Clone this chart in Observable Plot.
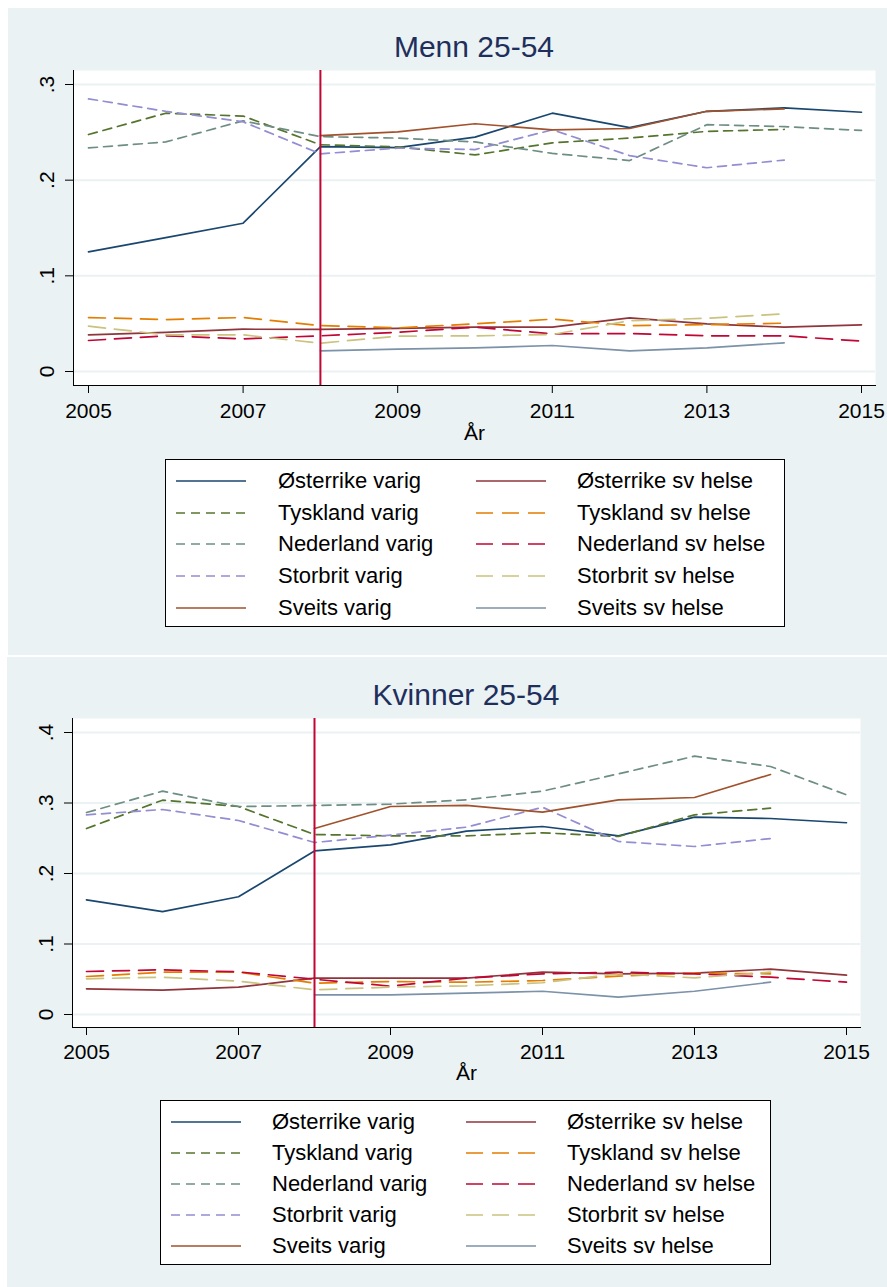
<!DOCTYPE html>
<html><head><meta charset="utf-8">
<script src="https://cdn.jsdelivr.net/npm/d3@7"></script>
<script src="https://cdn.jsdelivr.net/npm/@observablehq/plot@0.6"></script>
<style>
html,body{margin:0;padding:0;background:#fff}
body{width:887px;height:1287px;position:relative;overflow:hidden;font-family:"Liberation Sans",Arial,Helvetica,sans-serif}
.panel{position:absolute;background:#eaf2f3}
.title{position:absolute;transform:translate(-50%,-50%);white-space:nowrap;color:#1f2f5c;font-size:30px}
.chart{position:absolute;left:0}
.legend{position:absolute;background:#fff;border:1px solid #000;box-sizing:border-box}
.legend .item{position:absolute;height:30px;transform:translateY(-50%)}
.legend svg{position:absolute;top:0}
.legend span{position:absolute;top:50%;transform:translateY(-50%);font-size:22px;white-space:nowrap;color:#000}
</style>
</head><body>
<div class="panel" style="left:8px;top:8px;width:879px;height:647px"></div>
<div class="panel" style="left:7px;top:657px;width:880px;height:630px"></div>
<div class="title" id="t1" style="left:474px;top:47px">Menn 25-54</div>
<div class="title" id="t2" style="left:466px;top:695px">Kvinner 25-54</div>
<div class="chart" id="c1" style="top:0px"></div>
<div class="chart" id="c2" style="top:657px"></div>
<div class="legend" id="l1" style="left:165px;top:459px;width:620px;height:168px"></div>
<div class="legend" id="l2" style="left:160px;top:1100px;width:611px;height:165px"></div>
<script>
const years = [2005, 2006, 2007, 2008, 2009, 2010, 2011, 2012, 2013, 2014, 2015];
const xTicks = [2005, 2007, 2009, 2011, 2013, 2015];
const reformYear = 2008;
const names = ["Østerrike varig","Tyskland varig","Nederland varig","Storbrit varig","Sveits varig",
               "Østerrike sv helse","Tyskland sv helse","Nederland sv helse","Storbrit sv helse","Sveits sv helse"];
const colors = ["#1a476f","#55752f","#6e8e84","#938dd2","#a0522d","#90353b","#e37e00","#c10534","#cac27e","#7b92a8"];
const dashes = ["none","9,6","9,6","9,6","none","none","17,9","17,9","17,9","none"];

// Menn 25-54
const mennTicks = [0, 0.1, 0.2, 0.3];
const mennOstVarig  = [0.125, 0.140, 0.155, 0.235, 0.234, 0.245, 0.270, 0.255, 0.272, 0.2755, 0.271];
const mennTysVarig  = [0.2477, 0.270, 0.267, 0.237, 0.2348, 0.2264, 0.239, 0.244, 0.251, 0.253, null];
const mennNedVarig  = [0.2337, 0.240, 0.262, 0.2455, 0.244, 0.240, 0.228, 0.2205, 0.258, 0.256, 0.252];
const mennStbVarig  = [0.285, 0.272, 0.261, 0.2275, 0.2335, 0.232, 0.2526, 0.2257, 0.213, 0.221, null];
const mennSveVarig  = [null, null, null, 0.2466, 0.2505, 0.259, 0.2526, 0.254, 0.272, 0.2745, null];
const mennOstHelse  = [0.0383, 0.041, 0.0442, 0.044, 0.045, 0.0463, 0.0463, 0.056, 0.0498, 0.0463, 0.0488];
const mennTysHelse  = [0.0564, 0.0543, 0.0564, 0.048, 0.0456, 0.0498, 0.0547, 0.048, 0.049, 0.0505, null];
const mennNedHelse  = [0.0324, 0.0373, 0.0341, 0.0373, 0.041, 0.0463, 0.0394, 0.0397, 0.0373, 0.0373, 0.0317];
const mennStbHelse  = [0.0474, 0.0383, 0.0383, 0.0296, 0.037, 0.0373, 0.0387, 0.053, 0.0557, 0.0603, null];
const mennSveHelse  = [null, null, null, 0.0216, 0.0233, 0.0247, 0.0272, 0.0216, 0.0247, 0.030, null];

// Kvinner 25-54
const kvTicks = [0, 0.1, 0.2, 0.3, 0.4];
const kvOstVarig  = [0.1627, 0.146, 0.167, 0.232, 0.2407, 0.26, 0.2667, 0.2534, 0.28, 0.278, 0.272];
const kvTysVarig  = [0.2638, 0.304, 0.295, 0.2553, 0.2534, 0.2534, 0.2577, 0.2525, 0.2832, 0.2927, null];
const kvNedVarig  = [0.2865, 0.3168, 0.295, 0.2965, 0.2984, 0.3045, 0.3168, 0.3414, 0.3664, 0.3518, 0.3116];
const kvStbVarig  = [0.2832, 0.2908, 0.2752, 0.244, 0.2544, 0.2657, 0.294, 0.2454, 0.2383, 0.2496, null];
const kvSveVarig  = [null, null, null, 0.2638, 0.295, 0.2965, 0.287, 0.3045, 0.3078, 0.3404, null];
const kvOstHelse  = [0.0364, 0.0345, 0.0388, 0.0515, 0.0515, 0.0515, 0.06, 0.0577, 0.0586, 0.0643, 0.0558];
const kvTysHelse  = [0.0539, 0.06, 0.06, 0.0444, 0.0468, 0.0458, 0.0482, 0.0544, 0.0586, 0.0577, null];
const kvNedHelse  = [0.061, 0.0634, 0.0605, 0.050, 0.0402, 0.0515, 0.0577, 0.06, 0.0577, 0.0529, 0.0458];
const kvStbHelse  = [0.0506, 0.0529, 0.0473, 0.035, 0.0388, 0.0407, 0.045, 0.0577, 0.052, 0.06, null];
const kvSveHelse  = [null, null, null, 0.0279, 0.0279, 0.0303, 0.033, 0.0246, 0.033, 0.0458, null];

const mennValues = [mennOstVarig, mennTysVarig, mennNedVarig, mennStbVarig, mennSveVarig,
                    mennOstHelse, mennTysHelse, mennNedHelse, mennStbHelse, mennSveHelse];
const kvValues = [kvOstVarig, kvTysVarig, kvNedVarig, kvStbVarig, kvSveVarig,
                  kvOstHelse, kvTysHelse, kvNedHelse, kvStbHelse, kvSveHelse];

const yFmt = d => d === 0 ? "0" : d3.format(".1f")(d).replace(/^0/, "");
const FONT = '"Liberation Sans", Arial, Helvetica, sans-serif';

function chart(values, yTicks, cfg) {
  const rows = [];
  names.forEach((n, i) => years.forEach((yr, j) => {
    const v = values[i][j];
    if (v != null) rows.push({series: n, year: yr, value: v});
  }));
  const lines = names.map((n, i) => Plot.line(rows.filter(r => r.series === n), {
    x: "year", y: "value", stroke: colors[i], strokeWidth: 1.7,
    strokeDasharray: dashes[i] === "none" ? null : dashes[i]
  }));
  return Plot.plot({
    width: 887, height: cfg.height,
    marginLeft: cfg.ml, marginRight: cfg.mr, marginTop: cfg.mt, marginBottom: cfg.mb,
    style: {background: "transparent", fontFamily: FONT, color: "#000", overflow: "visible"},
    x: {domain: [years[0], years[years.length - 1]], insetLeft: cfg.il, insetRight: cfg.ir},
    y: {domain: [0, yTicks[yTicks.length - 1]], insetTop: cfg.it, insetBottom: cfg.ib},
    marks: [
      Plot.frame({fill: "white", stroke: null}),
      Plot.gridY({ticks: yTicks, stroke: "#eaf2f3", strokeOpacity: 1, strokeWidth: 2}),
      ...lines,
      Plot.ruleX([reformYear], {stroke: "#c10534", strokeWidth: 2}),
      Plot.axisX({ticks: xTicks, tickSize: 8, tickPadding: cfg.tp, tickFormat: "d", fontSize: 21, label: null}),
      Plot.axisY({ticks: yTicks, tickSize: 8, tickFormat: () => "", label: null}),
      Plot.text(yTicks, {y: d => d, text: yFmt, frameAnchor: "left", dx: -26, rotate: -90, fontSize: 21,
                         textAnchor: "middle", lineAnchor: "middle"}),
      Plot.text(["År"], {text: d => d, frameAnchor: "bottom", dy: cfg.ady, fontSize: 21, lineAnchor: "middle"}),
      Plot.frame({anchor: "left", stroke: "#000"}),
      Plot.frame({anchor: "bottom", stroke: "#000"})
    ]
  });
}

document.getElementById("c1").append(chart(mennValues, mennTicks,
  {height: 450, ml: 73, mr: 12, mt: 70, mb: 65, il: 15, ir: 14, it: 14, ib: 14, tp: 10, ady: 48}));
document.getElementById("c2").append(chart(kvValues, kvTicks,
  {height: 440, ml: 72, mr: 27, mt: 61, mb: 70, il: 14, ir: 14, it: 14, ib: 13, tp: 9, ady: 46}));

function legend(el, cfg) {
  names.forEach((n, i) => {
    const col = i < 5 ? 0 : 1, row = i % 5;
    const item = document.createElement("div");
    item.className = "item";
    item.style.left = "0px";
    item.style.top = (cfg.top + row * cfg.step) + "px";
    const lx = cfg.lineX[col], tx = cfg.textX[col];
    item.innerHTML = `<svg width="${lx + 72}" height="30" style="left:0"><line x1="${lx}" x2="${lx + 70}" y1="15" y2="15" stroke="${colors[i]}" stroke-width="1.7" ${dashes[i] === "none" ? "" : `stroke-dasharray="${dashes[i]}"`}/></svg><span style="left:${tx}px">${n}</span>`;
    el.append(item);
  });
}
legend(document.getElementById("l1"), {top: 21, step: 31.7, lineX: [10, 310], textX: [112, 411]});
legend(document.getElementById("l2"), {top: 21, step: 31, lineX: [10, 305], textX: [111, 406]});
</script>
</body></html>
